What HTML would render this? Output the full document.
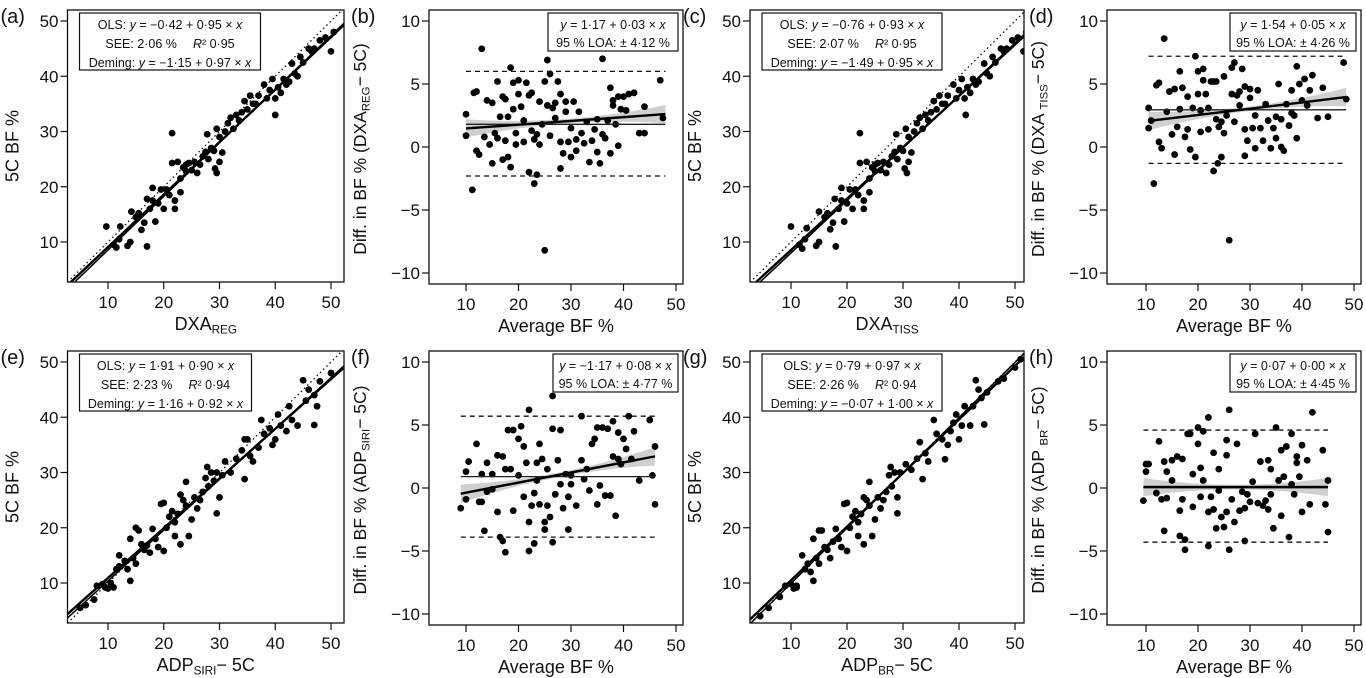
<!DOCTYPE html>
<html><head><meta charset="utf-8"><style>
html,body{margin:0;padding:0;background:#fff;}
svg{display:block;font-family:"Liberation Sans",sans-serif;}
</style></head><body>
<svg id="fig" width="1366" height="678" viewBox="0 0 1366 678" xmlns="http://www.w3.org/2000/svg"></svg>
<script>
// ---- data ----
const pointsA = [[9.7,12.8],[11,9.5],[11.5,9],[12,10.5],[12.2,12.8],[13.5,9.3],[14,10],[14.2,15.5],[15,14.5],[15.5,15.2],[16,12.2],[16.5,13.5],[17,9.2],[17,17.8],[17.5,16],[18,17.5],[18,19.8],[18.5,13.7],[19,17],[19.5,19.5],[20,16],[20.5,19.5],[21,18.5],[21.5,29.7],[21.5,24.3],[22,17.5],[22,16],[22.5,24.5],[23,21.5],[23,19],[23.5,23.5],[24,24],[24,22.8],[24.5,24.3],[25,23],[25.5,24.5],[26,22.5],[26.5,24],[27,25.5],[27.5,26.3],[27.8,29.5],[28,25],[28.5,27],[29,26.5],[29.2,23.3],[29.5,22.5],[29.5,30.5],[30,29],[30,24.5],[30.5,26.2],[31,30],[31.5,31.5],[32,32.5],[32.5,30.5],[33,33],[33.5,32],[34,33.5],[34.5,35.5],[35,34],[35.5,36.5],[36,35],[36.5,35],[37,36.5],[38,38.5],[38.5,36],[39,37.5],[39.5,39.5],[40,33],[40,36],[40.5,38],[41,37],[41.5,39.5],[42,38.5],[42.5,39],[43,42.3],[43.5,40.5],[44,40],[44.5,43.5],[45,42.5],[46,45],[46.5,44.5],[47,45],[48,46.5],[49,47],[50,44.5],[50.5,48]];
const pointsC = [[10,12.8],[11.5,9.5],[12,8.8],[12.5,10.5],[12.8,12.5],[14.5,9.3],[15,10],[15,15.5],[16,14.5],[16.5,15.2],[17,12.3],[17.5,13.5],[18,9.2],[17.8,17.8],[18.5,16],[19,17.5],[19,19.8],[19.5,13.7],[20,17],[20.5,19.5],[21,16],[21.5,19.5],[22,18.5],[22.3,29.7],[22.3,24.3],[23,17.5],[23,16],[23.5,24.5],[24,21.5],[24,19],[24.5,23.5],[25,24],[25,22.8],[25.5,24.3],[26,23],[26.5,24.5],[27,22.5],[27.5,24],[28,25.5],[28.5,26.3],[28.8,29.5],[29,25],[29.5,27],[30,26.5],[30.3,23.3],[30.7,22.5],[30.5,30.5],[31,29],[31,24.5],[31.5,26.2],[32,30],[32.5,31.5],[33,32.5],[33.5,30.5],[34,33],[34.5,32],[35,33.5],[35.5,35.5],[36,34],[36.5,36.5],[37,35],[37.5,35],[38,36.5],[39,38.5],[39.5,36],[40,37.5],[40.5,39.5],[41.2,33],[41,36],[41.5,38],[42,37],[42.5,39.5],[43,38.5],[43.5,39],[44.5,42.3],[45,40.5],[45.5,40],[46,43.5],[46.5,42.5],[47.5,45],[48,44.5],[48.5,45],[49.5,46.5],[50.5,47],[51.5,44.5],[52,48]];
const pointsE = [[5,5.5],[6,6],[7.5,7],[8,9.5],[9,9.8],[9.5,9.2],[10,9],[10.5,10],[11,9.2],[11.5,12.5],[12,13],[12,15],[13,14],[13.5,12.5],[14,10.4],[14,18],[14.5,14.5],[15,20],[15,13.5],[15.5,19.5],[16,17],[16.5,16],[17,16.8],[17.5,15.5],[18,19.8],[18.5,18],[19,16.5],[19.5,24.3],[20,24.5],[20,15.8],[20.5,20],[21,22],[21.5,23],[22,18.5],[22,21],[22.5,22.5],[23,26],[23,17],[23.5,25],[24,28.3],[24,24],[24.5,18.5],[25,21.5],[25.5,25.5],[26,23.5],[26.5,25],[27,26.5],[27.5,29],[27.8,31],[28,27.5],[28.5,30],[29,28.5],[29.5,22.6],[29.5,30],[30,25.5],[30.5,29.5],[31,32],[32,30],[33,32.5],[34,34],[34.5,28.8],[34.5,36],[35,36],[35.5,33],[36,32],[37,34.5],[37.5,39.5],[38,37],[39,38],[39.5,35],[40,36],[40.5,40.5],[41,38.5],[42,37.5],[42.5,42],[43,39.5],[44,38.5],[45,46.7],[45.5,43],[46,45],[47,44],[47,38.6],[47.5,42],[48,46.5],[50,48]];
const pointsG = [[4.5,4],[6,5.5],[8,7.5],[9,9.5],[10,9.8],[10.5,9],[11,9.2],[11,9.5],[12,15],[12.5,12.5],[13,13.5],[13.5,12],[14,10.4],[14,18],[14.5,14.5],[15,19.5],[15,13.5],[15.5,19.5],[16,16.5],[16.5,16],[17,14.5],[17.5,17.5],[18,19.8],[18.5,18],[19,16.5],[19.5,24.3],[20,24.5],[20,15.8],[20.5,20],[21,22],[21.5,23],[22,18.5],[22,21],[22.5,22.5],[23,25.5],[23,17],[23.5,25],[24,28.3],[24,24],[24.5,18.5],[25,21.5],[25.5,25.5],[26,23.5],[26.5,25],[27,26.5],[27.5,29.5],[27.8,31],[28,27.5],[28.5,30],[29,22.6],[29,25.5],[29.5,30],[30.5,31.5],[31.5,30.5],[32.5,32.5],[33,35.5],[33.5,28.8],[34,33.5],[34.5,32],[35.5,39.5],[36,37],[37,36],[37.5,32.4],[38,35],[38.5,37.5],[39,39],[39.5,40.5],[40,36],[40.5,38.5],[41,42],[42,38.5],[42.5,42],[43,46.7],[43.5,45],[44,43.5],[44.5,38.7],[45,44.5],[47,46.5],[48,47],[50,49],[51,50.5]];
const pointsB = [[10,2.6],[10,0.9],[11.2,-3.4],[11.5,4.3],[12,4.4],[12,-0.3],[12.5,-0.6],[13,7.8],[13.5,0.8],[14,3.7],[14.5,0.2],[15,-1.3],[15,3.5],[15.5,1.1],[16,5.2],[16,0.7],[16.5,2.4],[17,4],[17,-1],[17.5,3.8],[17.5,0.5],[18,-0.8],[18,2.4],[18.5,6.3],[18.5,-1.6],[19,5.1],[19,3],[19.5,1.1],[19.5,0.2],[20,5.3],[20,4.2],[20.5,3.2],[21,2.1],[21,0.4],[21.5,5.1],[22,4.1],[22,-2],[22.5,4.3],[22.5,1.3],[23,-2.9],[23,0.6],[23.5,1],[23.5,-2.2],[24,3.6],[24,0.2],[24.5,1.8],[25,5.2],[25,-8.2],[25.5,6.9],[25.5,3.3],[26,5.8],[26,0.9],[26.5,3.1],[27,3.5],[27,2.3],[27.5,5.2],[28,-1.7],[28,4.2],[28,0.4],[28.5,-0.5],[29,2.8],[29,3.6],[29.5,0.4],[30,-0.8],[30,1.5],[30.5,3.6],[31,0.6],[31,-0.3],[31.5,2.8],[32,1.1],[32.5,0.3],[33,2],[33.5,-1.2],[34,0.5],[34.5,1.4],[35,-0.4],[35,2.2],[35.5,-1.3],[36,7],[36,1],[36.5,0.7],[37,2.1],[37.5,4.7],[37.5,-0.5],[38,3.3],[38,3.7],[38.5,1.8],[39,4],[39,0.1],[39.5,3],[40,4],[40.5,2.9],[41,4.2],[42,4.3],[43,1.1],[44,1.1],[44,3.2],[47,5.3],[47.5,2.3]];
const pointsD = [[10.5,3.1],[10.5,1.5],[11,2.1],[11.5,-2.9],[12,4.9],[12.5,5.1],[12.5,0.4],[13,-0.1],[13.5,8.6],[14,2.8],[14.5,4.4],[15,1],[15.5,-0.6],[15.5,4.6],[16,1.6],[16.5,6],[16.5,3],[17,4.7],[17.5,0.8],[18,4],[18,1.4],[18.5,-0.2],[19,3.1],[19.5,7.2],[19.5,-0.8],[20,6],[20,4.2],[20.5,2.9],[20.5,1.2],[21,6.2],[21,5.3],[21.5,4.2],[22,3.1],[22,1.4],[22.5,5.2],[23,5.2],[23,-1.9],[23.5,5.2],[23.5,2.2],[23.8,-1.3],[24,1.6],[24.5,2],[24.5,-0.8],[25,5.6],[25,1.1],[25.5,2.5],[26,-7.4],[26.5,6.3],[26.5,4.2],[27,6.7],[27,2],[27.5,4.1],[28,4.4],[28,3.3],[28.5,6.2],[29,-0.7],[29,4.8],[29,1.4],[29.5,0.5],[30,3.9],[30,4.6],[30.5,1.5],[31,-0.1],[31,2.5],[31.5,4.5],[32,1.5],[32.5,0.5],[33,3.4],[33.5,2.1],[34,-0.1],[34.5,1.5],[35,2.4],[35,0.7],[35.5,5],[36,0],[36,2.2],[36.5,-0.3],[37,3.4],[37.5,1.7],[38,2.7],[38,4.5],[38.5,2.5],[39,6.4],[39,0.7],[39.5,5],[40,3.7],[40.5,5.4],[41,3.3],[41.5,4.5],[42,5.7],[43,2.3],[44,4.7],[45,2.4],[48,6.7],[48.5,3.8]];
const pointsF = [[9,-1.6],[10,1.3],[10,-0.9],[10.5,2.1],[12,3.5],[12.5,-1.1],[13,-1.1],[13.5,-3.4],[13,1.1],[14,2],[14,-0.3],[15,1.1],[15,-0.1],[16,2.6],[16,-1.9],[16.5,-3.9],[17,2.5],[17,-4.2],[17.5,-5.1],[17.5,1.5],[18,4.6],[18.5,1.5],[19,4.6],[19,-1.8],[20,3.9],[20,1],[20.5,4.9],[21,-0.7],[21,3.3],[21.5,2],[22,6.2],[22,-2.7],[22,-5],[22.5,-1.4],[23,-0.4],[23,-4.4],[23.5,2],[23.5,0.6],[24,3.5],[24,-1.3],[24.5,2.3],[25,-2.7],[25,-3.3],[25.5,-1.4],[25.5,1.5],[26,-2.3],[26.5,4.7],[26.5,-4.3],[26.5,7.3],[27,-0.5],[27.5,2.2],[28,4.6],[28,0.3],[28.5,-1.6],[29,1.1],[29.5,-0.7],[29.5,-3.3],[30,1],[30,0.3],[31,-1.4],[32,2.2],[32,5.7],[32.5,0.7],[33,1.5],[33.5,-0.2],[34,3.5],[34.5,3.9],[35,4.8],[35,-1.3],[35.5,0.2],[36,4.8],[36.5,-0.6],[37,4.7],[37.5,-0.6],[38,2.5],[38,5.3],[38.5,-2.2],[39,2.3],[39,4.4],[39.5,1.9],[40,3.9],[40.5,3.1],[41,5.7],[41.5,2.3],[42,4.5],[43,0.6],[45,5.4],[45.5,1],[46,3.3],[46,-1.3]];
const pointsH = [[9.5,-1],[10,1.9],[10,1.3],[10.5,1.9],[12,-0.4],[12.5,3.7],[13,-0.9],[13.5,2.1],[13.5,-3.4],[14,1.3],[14,-0.8],[15,0.6],[15,2.2],[16,2.5],[16.5,-1.8],[16.5,-3.8],[17,-0.9],[17,2.3],[17.5,-4.1],[17.5,-4.9],[18,4.3],[18.5,4.3],[19,-1.5],[19,1.1],[20,3.5],[20,4.8],[20.5,1.6],[20.5,-0.7],[21,4.5],[21,0.6],[22,5.6],[22,-1.9],[22,-4.6],[22.5,-0.7],[23,2.8],[23,-1.7],[23.5,-3.2],[24,1.5],[24,-0.2],[24.5,-2.3],[25,-3.1],[25.5,2.6],[25.5,-1.9],[25.5,3.8],[26,6.2],[26,-4.9],[26.5,-0.9],[27,-2.7],[27.5,3.5],[28,-1.8],[28.5,-0.3],[29,-1.6],[29,-4.2],[29.5,-0.5],[30,-1.1],[30.5,0.5],[31,4.3],[31.5,-1.2],[32,2.1],[32.5,-1.4],[33,-1],[33.5,-1.7],[33.5,2.2],[34,1.5],[34,-0.5],[34.5,-3.2],[35,4.8],[35.5,0.6],[36,-2.2],[36,3],[36.5,0.9],[37,3.3],[37.5,-3.9],[38,0.3],[38,4.3],[38.5,-0.5],[39,2],[39,2.5],[39.5,0.9],[40,3.4],[40,-1.9],[41,2.2],[41.5,-1.3],[42,6],[44,3],[44.5,-1.3],[45,0.6],[45,-3.5]];
const olsA=[-0.42,0.95], demA=[-1.15,0.97];
const olsC=[-0.76,0.93], demC=[-1.49,0.95];
const olsE=[1.91,0.90], demE=[1.16,0.92];
const olsG=[0.79,0.97], demG=[-0.07,1.00];
const baRegB=[1.17,0.03], baMeanB=1.8, baLoaB=[6.0,-2.3];
const baRegD=[1.54,0.05], baMeanD=2.95, baLoaD=[7.2,-1.3];
const baRegF=[-1.17,0.08], baMeanF=0.9, baLoaF=[5.7,-3.9];
const baRegH=[0.07,0.00], baMeanH=0.12, baLoaH=[4.6,-4.3];
const scatterTicks=[10,20,30,40,50];
const baXTicks=[10,20,30,40,50];
const baYTicks=[-10,-5,0,5,10];

const NS="http://www.w3.org/2000/svg";
const svg=document.getElementById('fig');
function el(tag,attrs,parent){const e=document.createElementNS(NS,tag);for(const k in attrs)e.setAttribute(k,attrs[k]);(parent||svg).appendChild(e);return e;}

function labelWithSub(g,x,y,parts,size,anchor,rot){
  const t=el('text',{x:x,y:y,'font-size':size,'text-anchor':anchor||'middle',fill:'#111'},g);
  if(rot)t.setAttribute('transform','rotate(-90 '+x+' '+y+')');
  parts.forEach(p=>{const s=el('tspan',{},t);s.textContent=p[0];if(p[1]==='sub'){s.setAttribute('font-size',size*0.65);s.setAttribute('dy',size*0.2);}else if(p[1]==='after'){s.setAttribute('dy',-size*0.2);}});
  return t;
}
function fillLine(t,ln){ln.forEach(p=>{const s=el('tspan',{},t);s.textContent=p[0];if(p[1]==='i')s.setAttribute('font-style','italic');if(p[2])s.setAttribute('dx',p[2]);});}

function scatterPanel(id,letter,L,R,T,B,x10,x50,y10,y50,pts,ols,dem,xlabParts,box){
  const g=el('g',{});
  
  
  const sx=v=>x10+(v-10)*(x50-x10)/40, sy=v=>y10+(v-10)*(y50-y10)/40;
  const ix=p=>10+(p-x10)*40/(x50-x10);
  const cp='clip-'+id;
  const cl=el('clipPath',{id:cp},g);el('rect',{x:L,y:T,width:R-L,height:B-T},cl);
  const x0=ix(L),x1=ix(R);
  const idl=el('line',{x1:sx(x0),y1:sy(x0),x2:sx(x1),y2:sy(x1),stroke:'#111','stroke-width':1.3,'stroke-dasharray':'1.5 3','clip-path':'url(#'+cp+')'},g);
  
  pts.forEach(p=>{const c=el('circle',{cx:sx(p[0]),cy:sy(p[1]),r:3.4,fill:'#000','clip-path':'url(#'+cp+')'},g);
    });
  const dl=el('line',{x1:sx(x0),y1:sy(dem[0]+dem[1]*x0),x2:sx(x1),y2:sy(dem[0]+dem[1]*x1),stroke:'#000','stroke-width':1.5,'clip-path':'url(#'+cp+')'},g);
  
  const ol=el('line',{x1:sx(x0),y1:sy(ols[0]+ols[1]*x0),x2:sx(x1),y2:sy(ols[0]+ols[1]*x1),stroke:'#000','stroke-width':2.4,'clip-path':'url(#'+cp+')'},g);
  
  const fr=el('rect',{x:L,y:T,width:R-L,height:B-T,fill:'none',stroke:'#111','stroke-width':1.3},g);
  
  scatterTicks.forEach(v=>{
    el('line',{x1:sx(v),y1:B,x2:sx(v),y2:B+7,stroke:'#111','stroke-width':1.2},g);
    const tx=el('text',{x:sx(v),y:B+26,'font-size':17,'text-anchor':'middle',fill:'#111'},g);tx.textContent=v;
    
    el('line',{x1:L-7,y1:sy(v),x2:L,y2:sy(v),stroke:'#111','stroke-width':1.2},g);
    const ty=el('text',{x:L-9,y:sy(v)+6,'font-size':17,'text-anchor':'end',fill:'#111'},g);ty.textContent=v;
    
  });
  const yl=labelWithSub(g,L-49,(T+B)/2,[['5C BF %']],18,'middle',true);
  
  const xl=labelWithSub(g,(L+R)/2,B+48,xlabParts,18,'middle');
  
  const pl=el('text',{x:L-67,y:T+13,'font-size':20,fill:'#111'},g);pl.textContent='('+letter+')';
  
  const bx=el('g',{},g);
  el('rect',{x:L+12,y:T+3,width:box.w,height:57,fill:'#fff',stroke:'#111','stroke-width':1.2},bx);
  const cx=L+12+box.w/2;
  [box.l1,box.l2,box.l3].forEach((ln,i)=>{const t=el('text',{x:cx,y:T+19+i*19,'font-size':12.5,'text-anchor':'middle',fill:'#111'},bx);fillLine(t,ln);});
}

function baPanel(id,letter,L,R,T,B,x10,x50,y0,y5,pts,reg,mean,loa,xr,ylabParts,box){
  const g=el('g',{});
  
  
  const sx=v=>x10+(v-10)*(x50-x10)/40, sy=v=>y0+v*(y5-y0)/5;
  const n=20,up=[],dn=[],mid=(xr[0]+xr[1])/2,half=(xr[1]-xr[0])/2;
  for(let i=0;i<=n;i++){const x=xr[0]+(xr[1]-xr[0])*i/n;const w=0.18+0.55*Math.pow((x-mid)/half,2);const y=reg[0]+reg[1]*x;
    up.push(sx(x)+','+sy(y+w));dn.unshift(sx(x)+','+sy(y-w));}
  const band=el('polygon',{points:up.concat(dn).join(' '),fill:'#c8c8c8','fill-opacity':0.85},g);
  
  pts.forEach(p=>{const c=el('circle',{cx:sx(p[0]),cy:sy(p[1]),r:3.4,fill:'#000'},g);
    });
  const ml=el('line',{x1:sx(xr[0]),y1:sy(mean),x2:sx(xr[1]),y2:sy(mean),stroke:'#222','stroke-width':1.3},g);
  
  const rl=el('line',{x1:sx(xr[0]),y1:sy(reg[0]+reg[1]*xr[0]),x2:sx(xr[1]),y2:sy(reg[0]+reg[1]*xr[1]),stroke:'#000','stroke-width':2.4},g);
  
  loa.forEach(v=>{const l=el('line',{x1:sx(xr[0]),y1:sy(v),x2:sx(xr[1]),y2:sy(v),stroke:'#111','stroke-width':1.3,'stroke-dasharray':'5 4'},g);
    });
  const fr=el('rect',{x:L,y:T,width:R-L,height:B-T,fill:'none',stroke:'#111','stroke-width':1.3},g);
  
  baXTicks.forEach(v=>{
    el('line',{x1:sx(v),y1:B,x2:sx(v),y2:B+7,stroke:'#111','stroke-width':1.2},g);
    const tx=el('text',{x:sx(v),y:B+26,'font-size':17,'text-anchor':'middle',fill:'#111'},g);tx.textContent=v;
    });
  baYTicks.forEach(v=>{
    el('line',{x1:L-7,y1:sy(v),x2:L,y2:sy(v),stroke:'#111','stroke-width':1.2},g);
    const ty=el('text',{x:L-9,y:sy(v)+6,'font-size':17,'text-anchor':'end',fill:'#111'},g);ty.textContent=(v<0?'\u2212'+(-v):v);
    });
  const yl=labelWithSub(g,L-63,(T+B)/2+2,ylabParts,17.5,'middle',true);
  
  const xl=el('text',{x:(L+R)/2,y:B+48,'font-size':18,'text-anchor':'middle',fill:'#111'},g);xl.textContent='Average BF %';
  
  const pl=el('text',{x:L-78,y:T+13,'font-size':20,fill:'#111'},g);pl.textContent='('+letter+')';
  
  const bx=el('g',{},g);
  el('rect',{x:R-box.w-5,y:T+3,width:box.w,height:38,fill:'#fff',stroke:'#111','stroke-width':1.2},bx);
  const cx=R-5-box.w/2;
  [box.l1,box.l2].forEach((ln,i)=>{const t=el('text',{x:cx,y:T+19+i*18,'font-size':12.5,'text-anchor':'middle',fill:'#111'},bx);fillLine(t,ln);});
}

const O=341;
scatterPanel('a','a',67.5,344,10,282,108,331,242,21,pointsA,olsA,demA,[['DXA'],['REG','sub']],
 {w:181,l1:[['OLS: '],['y','i'],[' = \u22120\u00b742 + 0\u00b795 \u00d7 '],['x','i']],l2:[['SEE: 2\u00b706 %'],['R','i',16],['\u00b2 0\u00b795']],l3:[['Deming: '],['y','i'],[' = \u22121\u00b715 + 0\u00b797 \u00d7 '],['x','i']]});
baPanel('b','b',429,683,10,284,466,676,147,84,pointsB,baRegB,baMeanB,baLoaB,[10,48],[['Diff. in BF % (DXA'],['REG','sub'],['\u2212 5C)','after']],
 {w:130,l1:[['y','i'],[' = 1\u00b717 + 0\u00b703 \u00d7 '],['x','i']],l2:[['95 % LOA: \u00b1 4\u00b712 %']]});
scatterPanel('c','c',750,1024,10,282,791,1015,242,21,pointsC,olsC,demC,[['DXA'],['TISS','sub']],
 {w:180,l1:[['OLS: '],['y','i'],[' = \u22120\u00b776 + 0\u00b793 \u00d7 '],['x','i']],l2:[['SEE: 2\u00b707 %'],['R','i',16],['\u00b2 0\u00b795']],l3:[['Deming: '],['y','i'],[' = \u22121\u00b749 + 0\u00b795 \u00d7 '],['x','i']]});
baPanel('d','d',1107,1361,10,284,1146,1354,147,84,pointsD,baRegD,baMeanD,baLoaD,[10.5,48.5],[['Diff. in BF % (DXA '],['TISS','sub'],['\u2212 5C)','after']],
 {w:126,l1:[['y','i'],[' = 1\u00b754 + 0\u00b705 \u00d7 '],['x','i']],l2:[['95 % LOA: \u00b1 4\u00b726 %']]});
scatterPanel('e','e',67.5,344,10+O,282+O,108,331,242+O,21+O,pointsE,olsE,demE,[['ADP'],['SIRI','sub'],['\u2212 5C','after']],
 {w:172,l1:[['OLS: '],['y','i'],[' = 1\u00b791 + 0\u00b790 \u00d7 '],['x','i']],l2:[['SEE: 2\u00b723 %'],['R','i',16],['\u00b2 0\u00b794']],l3:[['Deming: '],['y','i'],[' = 1\u00b716 + 0\u00b792 \u00d7 '],['x','i']]});
baPanel('f','f',429,683,10+O,284+O,466,676,147+O,84+O,pointsF,baRegF,baMeanF,baLoaF,[9,46],[['Diff. in BF % (ADP'],['SIRI','sub'],['\u2212 5C)','after']],
 {w:125,l1:[['y','i'],[' = \u22121\u00b717 + 0\u00b708 \u00d7 '],['x','i']],l2:[['95 % LOA: \u00b1 4\u00b777 %']]});
scatterPanel('g','g',750,1024,10+O,282+O,791,1015,242+O,21+O,pointsG,olsG,demG,[['ADP'],['BR','sub'],['\u2212 5C','after']],
 {w:180,l1:[['OLS: '],['y','i'],[' = 0\u00b779 + 0\u00b797 \u00d7 '],['x','i']],l2:[['SEE: 2\u00b726 %'],['R','i',16],['\u00b2 0\u00b794']],l3:[['Deming: '],['y','i'],[' = \u22120\u00b707 + 1\u00b700 \u00d7 '],['x','i']]});
baPanel('h','h',1107,1361,10+O,284+O,1146,1354,147+O,84+O,pointsH,baRegH,baMeanH,baLoaH,[9.5,45],[['Diff. in BF % (ADP '],['BR','sub'],['\u2212 5C)','after']],
 {w:126,l1:[['y','i'],[' = 0\u00b707 + 0\u00b700 \u00d7 '],['x','i']],l2:[['95 % LOA: \u00b1 4\u00b745 %']]});
</script>
</body></html>
